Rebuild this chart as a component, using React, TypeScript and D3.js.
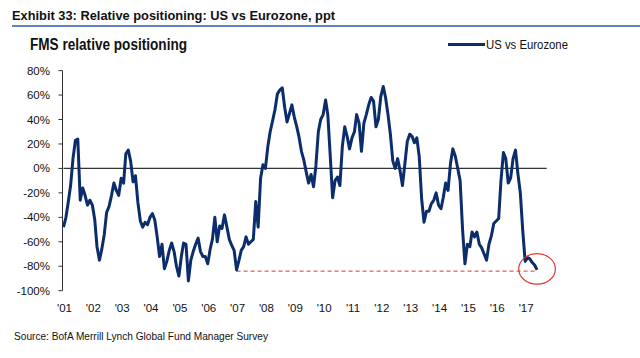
import React from "react";
import * as d3 from "d3";

// FMS relative positioning, US vs Eurozone (ppt), monthly from Jan 2001
const startYear = 2001;
const usVsEurozone: number[] = [
  -48, -40, -28, -14, 8, 23, 24, -26, -16, -22, -30, -26,
  -30, -42, -64, -75, -66, -54, -36, -31, -22, -12, -18, -22,
  -8, -12, 12, 15, 6, -11, -6, -28, -43, -48, -44, -46,
  -40, -37, -42, -56, -72, -62, -82, -76, -67, -61, -68, -80,
  -88, -72, -61, -62, -92, -75, -68, -62, -57, -68, -72, -72,
  -78, -66, -58, -40, -60, -47, -49, -38, -48, -58, -63, -67,
  -83, -75, -67, -64, -56, -62, -60, -58, -27, -48, -8, 3,
  0, 18, 30, 39, 48, 61, 64, 66, 50, 38, 45, 52,
  42, 34, 26, 14, 7, -3, -12, -5, -15, 2, 30, 40,
  44, 56, 44, 10, -24, -10, -7, -14, 18, 34, 26, 16,
  25, 30, 44, 37, 14, 37, 44, 52, 58, 55, 34, 40,
  59, 67, 58, 44, 28, 6, 0, 8, -2, -14, 4, 22,
  28, 26, 21, 25, 10, -25, -44, -35, -35, -29, -26, -20,
  -30, -33, -24, -12, -18, 4, 16, 10, 0, -10, -50, -78,
  -62, -64, -52, -56, -52, -62, -65, -70, -75, -62, -55, -45,
  -43, -41, -10, 13, 8, -12, -8, 8, 15, -4, -20, -50,
  -76, -73, -74, -77, -79, -83,
];

const yearLabels = ["'01", "'02", "'03", "'04", "'05", "'06", "'07", "'08", "'09", "'10", "'11", "'12", "'13", "'14", "'15", "'16", "'17"];
const yTicks = [80, 60, 40, 20, 0, -20, -40, -60, -80, -100];
const refLevel = -84; // dashed line: 2007 low

const navy = "#0b2d6c";
const red = "#e3342b";
const font = "'Liberation Sans', Arial, sans-serif";

type Pt = { date: Date; value: number };

const points: Pt[] = usVsEurozone.map((value, i) => ({
  date: new Date(startYear, i, 1),
  value,
}));

export default function App() {
  const width = 640;
  const height = 358;
  const left = 63.5;
  const right = 546.7;

  const x = d3
    .scaleTime()
    .domain([new Date(2001, 0, 1), new Date(2017, 9, 1)])
    .range([left, right]);

  const y = d3.scaleLinear().domain([-100, 80]).range([290.7, 70.6]);

  const line = d3
    .line<Pt>()
    .x((d) => x(d.date))
    .y((d) => y(d.value))
    .curve(d3.curveLinear);

  // start the dashed line at the 2007 low
  const pre2008 = points.filter((d) => d.date.getFullYear() >= 2006 && d.date.getFullYear() <= 2007);
  const lowPt = pre2008[d3.minIndex(pre2008, (d) => d.value)];
  const last = points[points.length - 1];

  return (
    <svg
      width={width}
      height={height}
      style={{ position: "absolute", left: 0, top: 0, background: "#fff" }}
      fontFamily={font}
    >
      <rect width={width} height={height} fill="#fff" />
      <text x={12} y={20} fontSize={13.5} fontWeight="bold" fill="#111" textLength={323} lengthAdjust="spacingAndGlyphs">
        Exhibit 33: Relative positioning: US vs Eurozone, ppt
      </text>
      <line x1={12} x2={640} y1={26} y2={26} stroke="#2a5aa8" strokeWidth={1.5} />

      <text x={30} y={50} fontSize={16} fontWeight="bold" fill="#111" textLength={157} lengthAdjust="spacingAndGlyphs">
        FMS relative positioning
      </text>

      {/* legend */}
      <line x1={448} x2={485} y1={44.5} y2={44.5} stroke={navy} strokeWidth={3} />
      <text x={486} y={49} fontSize={12} fill="#111" textLength={82} lengthAdjust="spacingAndGlyphs">
        US vs Eurozone
      </text>

      {/* y axis */}
      <line x1={left - 1} x2={left - 1} y1={y(80)} y2={y(-100)} stroke="#333" strokeWidth={1} />
      {yTicks.map((t) => (
        <g key={t}>
          <line x1={left - 5} x2={left - 1} y1={y(t)} y2={y(t)} stroke="#333" strokeWidth={1} />
          <text x={50} y={y(t)} dy="0.35em" textAnchor="end" fontSize={11.5} fill="#111">
            {t}%
          </text>
        </g>
      ))}

      {/* x labels */}
      {yearLabels.map((lab, i) => (
        <text key={lab} x={x(new Date(startYear + i, 0, 1)) + 1} y={308} dy="0.35em" textAnchor="middle" fontSize={11.5} fill="#111">
          {lab}
        </text>
      ))}

      {/* zero line */}
      <line x1={left} x2={right} y1={y(0)} y2={y(0)} stroke="#333" strokeWidth={1.2} />

      {/* reference dashed line */}
      <line
        x1={x(lowPt.date)}
        x2={x(last.date)}
        y1={y(refLevel)}
        y2={y(refLevel)}
        stroke={red}
        strokeWidth={1}
        strokeDasharray="4,3"
      />

      <path d={line(points) ?? ""} fill="none" stroke={navy} strokeWidth={3} strokeLinejoin="round" />

      <ellipse cx={x(last.date)} cy={y(last.value) - 1} rx={18.3} ry={15.3} fill="none" stroke={red} strokeWidth={1.2} />

      <text x={14} y={340} fontSize={11} fill="#111" textLength={254} lengthAdjust="spacingAndGlyphs">
        Source: BofA Merrill Lynch Global Fund Manager Survey
      </text>
    </svg>
  );
}
